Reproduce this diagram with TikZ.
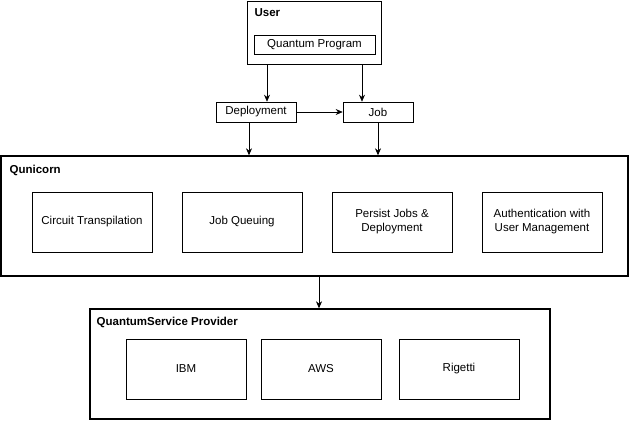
\documentclass[tikz,border=0pt]{standalone}
\usepackage{fontspec}
\setmainfont{Liberation Sans}
\usetikzlibrary{positioning, arrows.meta}
\begin{document}
\begin{tikzpicture}[-{Stealth[length=7pt, width=6pt]}, x=1pt, y=-1pt, semithick, font=\fontsize{11.5}{14}\selectfont,
               box/.style ={draw, rectangle, inner sep=0pt, align=center},
               group/.style ={draw, rectangle, line width=1.4pt, inner sep=0pt},
               title/.style ={font=\fontsize{11.5}{14}\selectfont\bfseries, anchor=west}]

           \useasboundingbox (0,0) rectangle (630,421);

           % user and its program
           \node[box, minimum width=134, minimum height=63] (user) at (314,32.5) {};
           \node[title] (usert) at (251,13) {User};
           \node[box, minimum width=121, minimum height=19] (prog) at (314.5,44.5) {Quantum Program};

           % deployment and job
           \node[box, minimum width=80, minimum height=20] (dep) at (256,112) {Deployment};
           \node[box, minimum width=70, minimum height=20] (job) at (378,112) {Job};

           % qunicorn
           \node[group, minimum width=627, minimum height=120] (qun) at (314.5,216) {};
           \node[title] (qunt) at (6,170) {Qunicorn};
           \node[box, minimum width=120, minimum height=60] (circ) at (92,222) {Circuit Transpilation};
           \node[box, minimum width=120, minimum height=60] (queue) at (242,222) {Job Queuing};
           \node[box, minimum width=120, minimum height=60] (persist) at (392,222) {Persist Jobs \&\\Deployment};
           \node[box, minimum width=120, minimum height=60] (auth) at (542,222) {Authentication with\\User Management};

           % provider
           \node[group, minimum width=460, minimum height=110] (qsp) at (320,364) {};
           \node[title] (qspt) at (93,322) {QuantumService Provider};
           \node[box, minimum width=120, minimum height=60] (ibm) at (186,369) {IBM};
           \node[box, minimum width=120, minimum height=60] (aws) at (321,369) {AWS};
           \node[box, minimum width=120, minimum height=60] (rig) at (459,369) {Rigetti};

           \draw ([xshift=-47pt]user.south) -- ([xshift=-47pt]user.south |- dep.north);
           \draw ([xshift=48pt]user.south) -- ([xshift=48pt]user.south |- job.north);
           \draw (dep) -- (job);
           \draw ([xshift=-7pt]dep.south) -- ([xshift=-7pt]dep.south |- qun.north);
           \draw (job.south) -- (job.south |- qun.north);
           \draw ([xshift=4.5pt]qun.south) -- ([xshift=4.5pt]qun.south |- qsp.north);
       \end{tikzpicture}
\end{document}
